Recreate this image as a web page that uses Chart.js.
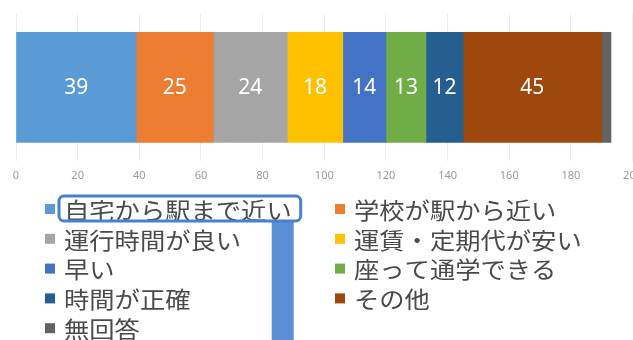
<!DOCTYPE html>
<html>
<head>
<meta charset="utf-8">
<script src="https://cdn.jsdelivr.net/npm/chart.js@4/dist/chart.umd.min.js"></script>
<style>
  html, body { margin: 0; padding: 0; background: #fff; overflow: hidden; }
  #wrap { width: 650px; height: 340px; }
</style>
</head>
<body>
<div id="wrap"><canvas id="reason-chart" width="650" height="340"></canvas></div>
<script>
// 通学手段を選んだ理由 (人数)
const reasons = ["自宅から駅まで近い", "学校が駅から近い", "運行時間が良い", "運賃・定期代が安い",
                 "早い", "座って通学できる", "時間が正確", "その他", "無回答"];
const counts = [39, 25, 24, 18, 14, 13, 12, 45, 3];
const colors = ['#5b9bd5', '#ed7d31', '#a5a5a5', '#ffc000', '#4472c4', '#70ad47', '#255e91', '#9e480e', '#636363'];
const xTicks = [0, 20, 40, 60, 80, 100, 120, 140, 160, 180, 200];

// white numbers inside the segments
const valueLabels = {
  id: 'valueLabels',
  afterDatasetsDraw(chart) {
    const ctx = chart.ctx;
    ctx.save();
    ctx.font = '21px "Noto Sans", sans-serif';
    ctx.fillStyle = '#fff';
    ctx.textAlign = 'center';
    ctx.textBaseline = 'middle';
    chart.data.datasets.forEach((ds, i) => {
      const bar = chart.getDatasetMeta(i).data[0];
      if (!bar || Math.abs(bar.x - bar.base) < 20) return;
      ctx.fillText(String(ds.data[0]), (bar.x + bar.base) / 2, bar.y + 1);
    });
    ctx.restore();
  }
};

// two-column legend under the axis, plus the blue highlight drawn on the slide
const twoColLegend = {
  id: 'twoColLegend',
  afterDraw(chart) {
    const ctx = chart.ctx;
    const colX = [45, 335];
    const top = 209, rowH = 29.8, sx = 1.1;
    ctx.save();
    ctx.font = '23px "Noto Sans CJK JP", sans-serif';
    ctx.textBaseline = 'middle';
    let firstBox = null;
    chart.data.datasets.forEach((ds, i) => {
      const x = colX[i % 2];
      const y = top + Math.floor(i / 2) * rowH;
      ctx.fillStyle = ds.backgroundColor;
      ctx.fillRect(x, y - 5, 10, 10);
      ctx.fillStyle = '#4a4a4a';
      const tx = x + 19;
      ctx.save();
      ctx.translate(tx, y + 1);
      ctx.scale(sx, 1);
      ctx.fillText(ds.label, 0, 0);
      ctx.restore();
      if (i === 0) firstBox = { left: tx - 5, right: tx + ctx.measureText(ds.label).width * sx + 9, y };
    });
    if (firstBox) {
      const b = firstBox;
      const bTop = b.y - 13, bBot = b.y + 12;
      ctx.fillStyle = '#5a8ed8';
      ctx.fillRect(b.right - 29, bBot, 22, chart.height - bBot);
      ctx.strokeStyle = '#4a80d2';
      ctx.lineWidth = 3;
      ctx.beginPath();
      ctx.roundRect(b.left, bTop, b.right - b.left, bBot - bTop, 5);
      ctx.stroke();
    }
    ctx.restore();
  }
};

new Chart(document.getElementById('reason-chart'), {
  type: 'bar',
  data: {
    labels: [''],
    datasets: reasons.map((r, i) => ({
      label: r,
      data: [counts[i]],
      backgroundColor: colors[i],
      barThickness: 110
    }))
  },
  options: {
    indexAxis: 'y',
    responsive: false,
    animation: false,
    layout: { padding: { left: 16, top: 14, bottom: 150, right: 0 } },
    scales: {
      x: {
        stacked: true,
        min: 0,
        max: 200,
        afterBuildTicks(scale) { scale.ticks = xTicks.map(v => ({ value: v })); },
        grid: { color: '#eeeeee', drawTicks: false },
        border: { display: false },
        ticks: {
          padding: 8,
          color: '#9a9a9a',
          font: { family: '"Noto Sans", sans-serif', size: 11 }
        }
      },
      y: { stacked: true, display: false }
    },
    plugins: {
      legend: { display: false },
      tooltip: { enabled: false }
    }
  },
  plugins: [valueLabels, twoColLegend]
});
</script>
</body>
</html>
